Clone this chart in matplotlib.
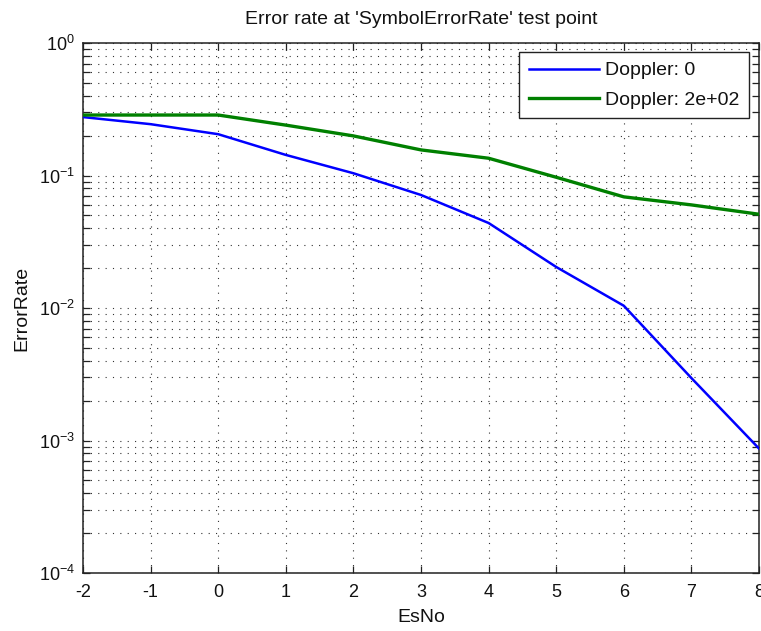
import matplotlib
matplotlib.use('Agg')
import matplotlib.pyplot as plt
from matplotlib.ticker import LogLocator, FixedLocator, NullFormatter
import numpy as np

# data
esno = [-2, -1, 0, 1, 2, 3, 4, 5, 6, 7, 8]
err_doppler_0 = [0.276, 0.244, 0.205, 0.143, 0.104, 0.0713, 0.0438, 0.0204, 0.0104, 0.00296, 0.00087]
err_doppler_200 = [0.286, 0.286, 0.286, 0.240, 0.199, 0.156, 0.135, 0.097, 0.069, 0.060, 0.051]
series_labels = ['Doppler: 0', 'Doppler: 2e+02']
x_ticks = [-2, -1, 0, 1, 2, 3, 4, 5, 6, 7, 8]
y_decades = [1e-4, 1e-3, 1e-2, 1e-1, 1e0]

plt.rcParams['font.family'] = ['Liberation Sans', 'DejaVu Sans']
plt.rcParams['mathtext.fontset'] = 'custom'
plt.rcParams['mathtext.rm'] = 'Liberation Sans'
plt.rcParams['mathtext.it'] = 'Liberation Sans'
plt.rcParams['lines.scale_dashes'] = False

fig = plt.figure(figsize=(7.61, 6.31), dpi=100)
ax = fig.add_axes([83 / 761, 1 - 573 / 631, (759 - 83) / 761, (573 - 43) / 631])

ax.plot(esno, err_doppler_0, color='#0000ff', lw=1.8, label=series_labels[0], zorder=3)
ax.plot(esno, err_doppler_200, color='#008000', lw=2.4, label=series_labels[1], zorder=3)

ax.set_yscale('log')
ax.set_xlim(-2, 8)
ax.set_ylim(1e-4, 1)
ax.xaxis.set_major_locator(FixedLocator(x_ticks))
ax.set_xticklabels([str(t) for t in x_ticks])
ax.yaxis.set_major_locator(FixedLocator(y_decades))
ax.set_yticklabels([r'$10^{%d}$' % int(np.log10(v)) for v in y_decades])
ax.yaxis.set_minor_locator(LogLocator(base=10, subs=np.arange(2, 10), numticks=20))
ax.yaxis.set_minor_formatter(NullFormatter())

ax.tick_params(which='both', direction='in', top=True, right=True, length=5, width=0.9,
               labelsize=13, color='#222222', labelcolor='#111111')
ax.tick_params(axis='x', pad=8)
ax.tick_params(axis='y', pad=6)
for s in ax.spines.values():
    s.set_linewidth(1.1)
    s.set_color('#222222')

# MATLAB-like sparse dotted grid
dots = (0, (0.8, 4.5))
ax.grid(True, which='major', color='#333333', linestyle=dots, linewidth=0.8)
ax.grid(True, which='minor', axis='y', color='#333333', linestyle=dots, linewidth=0.8)

ax.set_title("Error rate at 'SymbolErrorRate' test point", fontsize=14, color='#111111', pad=14)
ax.set_xlabel('EsNo', fontsize=14, color='#111111', labelpad=6)
ax.set_ylabel('ErrorRate', fontsize=14, color='#111111', labelpad=6)

leg = ax.legend(loc='upper right', bbox_to_anchor=(749 / 761, 1 - 52 / 631), bbox_transform=fig.transFigure,
                fontsize=14, frameon=True, fancybox=False, framealpha=1, edgecolor='#222222',
                handlelength=3.6, handletextpad=0.3, borderpad=0.5, labelspacing=0.6,
                borderaxespad=0)
leg.get_frame().set_linewidth(1.0)
for t in leg.get_texts():
    t.set_color('#111111')

fig.savefig('out.png', dpi=100)
